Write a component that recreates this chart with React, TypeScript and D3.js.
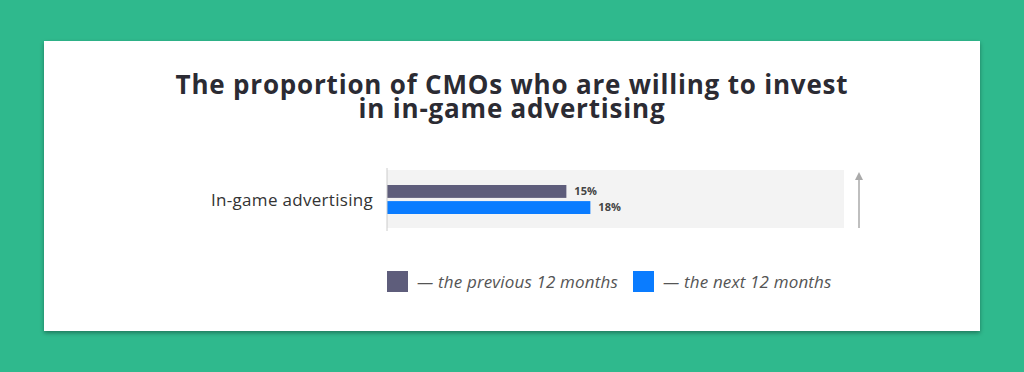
import React from "react";
import * as d3 from "d3";

const categories = ["In-game advertising"];
const previousValues = [15.7];
const nextValues = [17.8];
const previousLabels = ["15%"];
const nextLabels = ["18%"];
const seriesNames = ["— the previous 12 months", "— the next 12 months"];
const titleLines = ["The proportion of CMOs who are willing to invest", "in in-game advertising"];

const W = 1024;
const H = 372;
const colors = ["#5e5d7b", "#0a7cff"];
const FONT = "'Open Sans', sans-serif";

export default function App() {
  const plotLeft = 387;
  const plotRight = 844;
  const x = d3.scaleLinear().domain([0, 40]).range([plotLeft, plotRight]);
  const y = d3.scaleBand().domain(categories).range([170, 228]);
  const inner = d3.scaleBand().domain(["prev", "next"]).range([15, 44]).paddingInner(0.2);

  return (
    <svg width={W} height={H} style={{ position: "absolute", left: 0, top: 0, display: "block" }}>
      <defs>
        <filter id="sh" x="-5%" y="-10%" width="110%" height="125%">
          <feDropShadow dx="0" dy="2" stdDeviation="2" floodColor="#000" floodOpacity="0.35" />
        </filter>
      </defs>
      <rect x={0} y={0} width={W} height={H} fill="#2fb98d" />
      <rect x={44} y={41} width={936} height={290} fill="#ffffff" filter="url(#sh)" />
      <text textAnchor="middle" fontFamily={FONT} fontWeight={700} fontSize={26} fill="#2b2b33" letterSpacing={0.8}>
        {titleLines.map((t, i) => (
          <tspan key={i} x={512} y={94 + i * 24}>{t}</tspan>
        ))}
      </text>
      {categories.map((c, i) => {
        const y0 = y(c)!;
        return (
          <g key={c}>
            <rect x={plotLeft} y={y0} width={plotRight - plotLeft} height={y.bandwidth()} fill="#f3f3f3" />
            <rect x={x(0)} y={y0 + inner("prev")!} width={x(previousValues[i]) - x(0)} height={inner.bandwidth()} fill={colors[0]} />
            <rect x={x(0)} y={y0 + inner("next")!} width={x(nextValues[i]) - x(0)} height={inner.bandwidth()} fill={colors[1]} />
            <text x={x(previousValues[i]) + 8} y={y0 + inner("prev")! + inner.bandwidth() / 2} dy="0.35em"
              fontFamily={FONT} fontWeight={700} fontSize={11} fill="#444">{previousLabels[i]}</text>
            <text x={x(nextValues[i]) + 8} y={y0 + inner("next")! + inner.bandwidth() / 2} dy="0.35em"
              fontFamily={FONT} fontWeight={700} fontSize={11} fill="#444">{nextLabels[i]}</text>
            <text x={373} y={y0 + y.bandwidth() / 2 + 1} dy="0.35em" textAnchor="end" fontFamily={FONT}
              fontSize={17} letterSpacing={0.3} fill="#333">{c}</text>
          </g>
        );
      })}
      <line x1={plotLeft} x2={plotLeft} y1={168} y2={231} stroke="#cccccc" strokeWidth={1} />
      <line x1={859} x2={859} y1={178} y2={228} stroke="#aaaaaa" strokeWidth={1.5} />
      <path d="M855,180 L859,172 L863,180 Z" fill="#aaaaaa" />
      {seriesNames.map((s, i) => {
        const lx = i === 0 ? 387 : 633;
        return (
          <g key={s}>
            <rect x={lx} y={271} width={21} height={21} fill={colors[i]} />
            <text x={lx + 30} y={282} dy="0.35em" fontFamily={FONT} fontStyle="italic" fontSize={17}
              letterSpacing={0.15} fill="#555">{s}</text>
          </g>
        );
      })}
    </svg>
  );
}
